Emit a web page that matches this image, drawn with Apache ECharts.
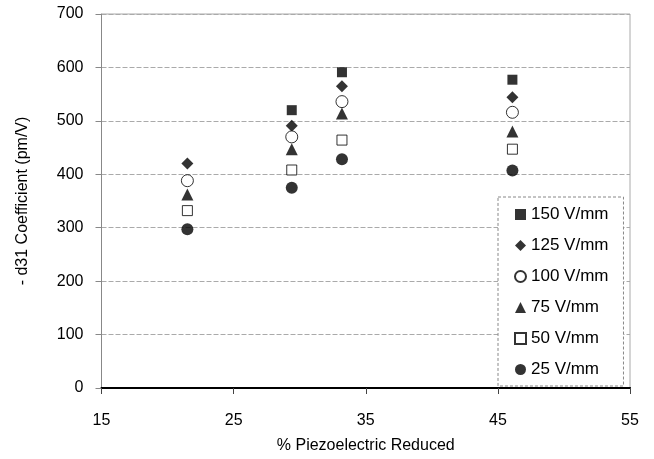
<!DOCTYPE html>
<html>
<head>
<meta charset="utf-8">
<script src="https://cdn.jsdelivr.net/npm/echarts@6/dist/echarts.min.js"></script>
<style>
  html, body { margin: 0; padding: 0; background: #fff; }
  #chart { width: 654px; height: 459px; }
</style>
</head>
<body>
<div id="chart"></div>
<script>
// % piezoelectric reduced for each group of points
const piezoReduced = [21.5, 29.4, 33.2, 46.1];

// -d31 coefficient (pm/V), one array per field strength
const d31_150 = [null, 520, 591, 577];
const d31_125 = [420, 491, 565, 544];
const d31_100 = [388, 470, 536, 516];
const d31_75  = [362, 447, 514, 480];
const d31_50  = [332, 408, 464, 447];
const d31_25  = [297, 375, 428, 407];

const seriesNames = ['150 V/mm', '125 V/mm', '100 V/mm', '75 V/mm', '50 V/mm', '25 V/mm'];
const xTicks = [15, 25, 35, 45, 55];
const yTicks = [0, 100, 200, 300, 400, 500, 600, 700];

const font = 'Liberation Sans, Arial, sans-serif';

function pts(vals) {
    return vals.map((v, i) => v == null ? null : [piezoReduced[i], v]).filter(p => p);
}

function makeSeries(name, vals, symbol, size, hollow) {
    return {
        name: name,
        type: 'scatter',
        symbol: symbol,
        symbolSize: size,
        itemStyle: hollow
            ? { color: '#fff', borderColor: '#000', borderWidth: 1 }
            : { color: '#000' },
        data: pts(vals)
    };
}

const chart = echarts.init(document.getElementById('chart'));

const option = {
    animation: false,
    backgroundColor: '#fff',
    textStyle: { fontFamily: font, color: '#000' },
    grid: {
        left: 101.5,
        right: 24,
        top: 14,
        bottom: 70,
        show: true,
        borderColor: '#aaa',
        borderWidth: 1
    },
    legend: {
        orient: 'vertical',
        left: 498,
        top: 197,
        padding: [9, 15, 8, 16],
        itemWidth: 11,
        itemHeight: 11,
        itemGap: 14,
        borderColor: '#888',
        borderWidth: 1,
        borderType: [3, 2],
        backgroundColor: '#fff',
        textStyle: { fontFamily: font, fontSize: 17, lineHeight: 16, color: '#000' },
        data: seriesNames
    },
    xAxis: [
        {
            type: 'value',
            min: 15,
            max: 55,
            interval: 10,
            name: '% Piezoelectric Reduced',
            nameLocation: 'middle',
            nameGap: 58,
            nameTextStyle: { fontFamily: font, fontSize: 16, color: '#000', verticalAlign: 'middle' },
            axisLine: { show: true, onZero: false, lineStyle: { color: '#000', width: 2 } },
            axisTick: { show: true, inside: false, length: 6, lineStyle: { color: '#444' } },
            axisLabel: {
                margin: 33,
                fontSize: 16,
                color: '#000',
                verticalAlign: 'middle',
                formatter: v => xTicks.includes(v) ? String(v) : ''
            },
            splitLine: { show: false }
        },
        {
            type: 'value',
            position: 'top',
            min: 15,
            max: 55,
            axisLine: { show: true, lineStyle: { color: '#000', width: 1.5 } },
            axisTick: { show: false },
            axisLabel: { show: false },
            splitLine: { show: false }
        }
    ],
    yAxis: {
        type: 'value',
        min: 0,
        max: 700,
        interval: 100,
        name: '- d31 Coefficient (pm/V)',
        nameLocation: 'middle',
        nameGap: 79,
        nameRotate: 90,
        nameTextStyle: { fontFamily: font, fontSize: 16, color: '#000', verticalAlign: 'middle' },
        axisLine: { show: true, lineStyle: { color: '#888', width: 1 } },
        axisTick: { show: true, inside: false, length: 6, lineStyle: { color: '#888' } },
        axisLabel: {
            margin: 18,
            fontSize: 16,
            color: '#000',
            formatter: v => yTicks.includes(v) ? String(v) : ''
        },
        splitLine: { show: true, lineStyle: { color: '#aaa', width: 1, type: [5, 2] } }
    },
    series: [
        makeSeries(seriesNames[0], d31_150, 'rect', 10, false),
        makeSeries(seriesNames[1], d31_125, 'diamond', 12, false),
        makeSeries(seriesNames[2], d31_100, 'circle', 12, true),
        makeSeries(seriesNames[3], d31_75, 'triangle', 12, false),
        makeSeries(seriesNames[4], d31_50, 'rect', 10, true),
        makeSeries(seriesNames[5], d31_25, 'circle', 12, false)
    ]
};

chart.setOption(option);
</script>
</body>
</html>
